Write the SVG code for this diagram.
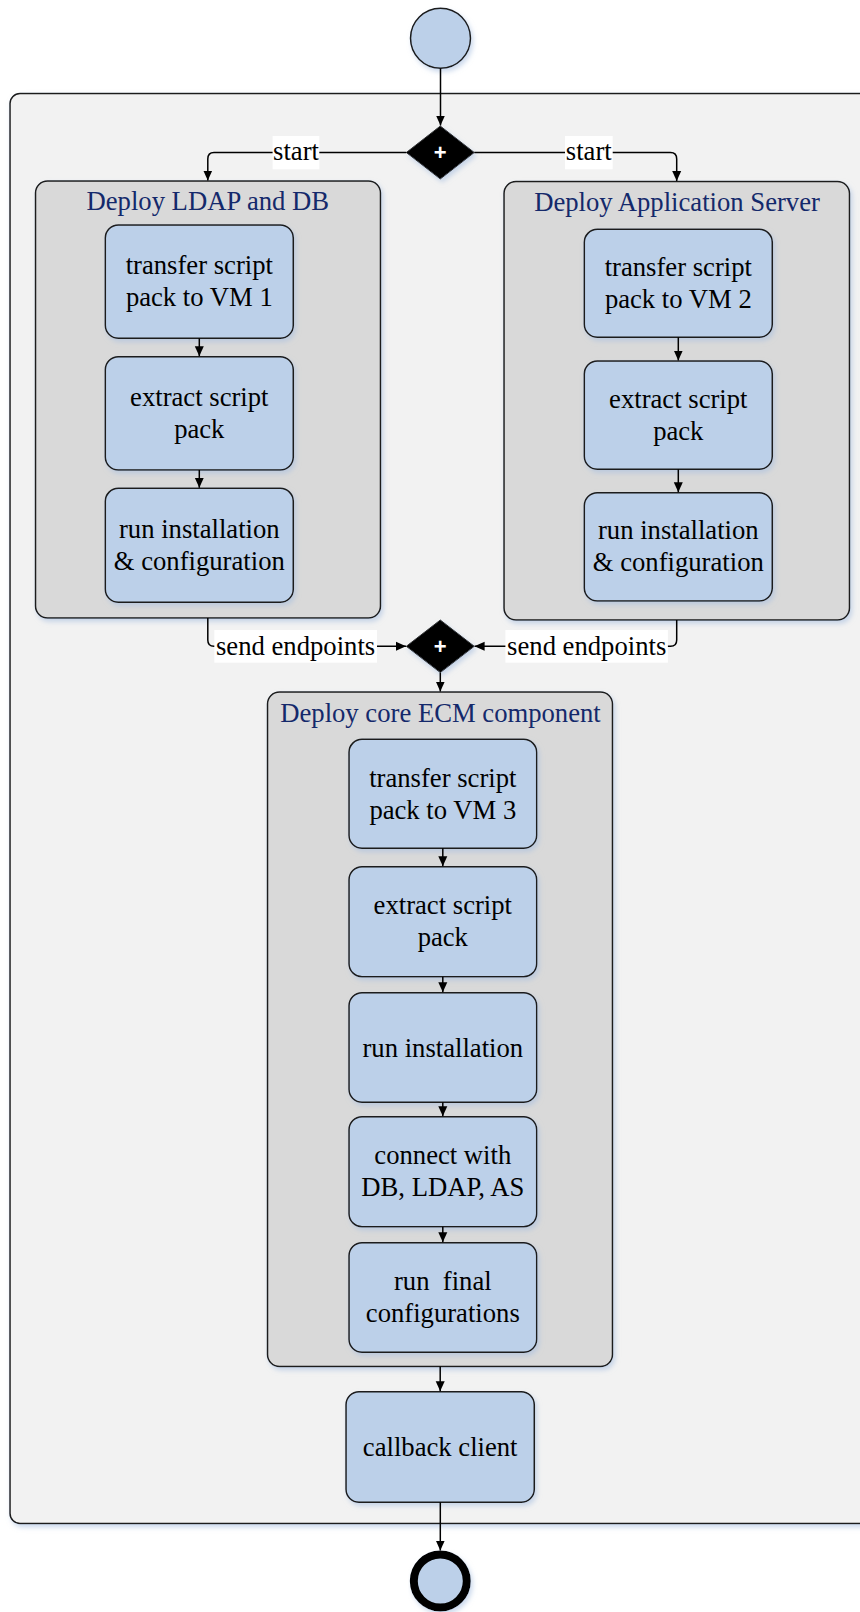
<svg xmlns="http://www.w3.org/2000/svg" width="860" height="1612" viewBox="0 0 860 1612" font-family="'Liberation Serif', 'Times New Roman', serif">
<defs>
<filter id="sh" x="-10%" y="-10%" width="130%" height="130%">
<feDropShadow dx="2" dy="3" stdDeviation="2.5" flood-color="#a8c0e0" flood-opacity="0.6"/>
</filter>
<marker id="ah" markerUnits="userSpaceOnUse" markerWidth="10" markerHeight="10" refX="10" refY="5" orient="auto">
<path d="M0,0.5 L10,5 L0,9.5 z" fill="#000"/>
</marker>
<style>
.outer{fill:#f2f2f2;stroke:#1a1a1a;stroke-width:1.5}
.grp{fill:#d9d9d9;stroke:#1a1a1a;stroke-width:1.5}
.box{fill:#bcd0e9;stroke:#1a1a1a;stroke-width:1.5}
.ttl{font-family:'Liberation Serif','Times New Roman',serif;font-size:26.67px;fill:#14296b;text-anchor:middle}
.txt{font-family:'Liberation Serif','Times New Roman',serif;font-size:26.67px;fill:#000;text-anchor:middle}
.c{fill:none;stroke:#000;stroke-width:1.5;marker-end:url(#ah)}
.lbg{fill:#fff}
.dia{fill:#000;stroke:#333;stroke-width:1}
.plus{font-family:'Liberation Sans',Arial,sans-serif;font-size:22px;font-weight:bold;fill:#fff;text-anchor:middle}
</style>
</defs>

<g id="container">
<rect class="outer" x="10" y="93.5" width="880" height="1430" rx="10" filter="url(#sh)"/>
</g>

<g id="start">
<circle cx="440.5" cy="38.3" r="30" fill="#bcd0e9" stroke="#1a1a1a" stroke-width="1.5" filter="url(#sh)"/>
</g>

<g id="fork">
<polygon class="dia" points="440.3,126 474.3,152.5 440.3,179 406.3,152.5" filter="url(#sh)"/>
<text class="plus" x="440.3" y="160">+</text>
</g>

<g id="group-ldap">
<rect class="grp" x="35.5" y="181" width="345" height="437" rx="12" filter="url(#sh)"/>
<text class="ttl" x="207.8" y="210">Deploy LDAP and DB</text>
</g>
<g id="ldap-transfer">
<rect class="box" x="105.3" y="225" width="188" height="113.3" rx="13" filter="url(#sh)"/>
<text class="txt" x="199.3" y="274">transfer script</text>
<text class="txt" x="199.3" y="306">pack to VM 1</text>
</g>
<g id="ldap-extract">
<rect class="box" x="105.3" y="356.7" width="188" height="113.3" rx="13" filter="url(#sh)"/>
<text class="txt" x="199.3" y="406">extract script</text>
<text class="txt" x="199.3" y="438">pack</text>
</g>
<g id="ldap-run">
<rect class="box" x="105.3" y="488.3" width="188" height="114" rx="13" filter="url(#sh)"/>
<text class="txt" x="199.3" y="538">run installation</text>
<text class="txt" x="199.3" y="570">&amp; configuration</text>
</g>

<g id="group-as">
<rect class="grp" x="504" y="181.5" width="345.5" height="438.5" rx="12" filter="url(#sh)"/>
<text class="ttl" x="677" y="210.7">Deploy Application Server</text>
</g>
<g id="as-transfer">
<rect class="box" x="584.3" y="229.3" width="188" height="108" rx="13" filter="url(#sh)"/>
<text class="txt" x="678.3" y="276">transfer script</text>
<text class="txt" x="678.3" y="308">pack to VM 2</text>
</g>
<g id="as-extract">
<rect class="box" x="584.3" y="361" width="188" height="108.3" rx="13" filter="url(#sh)"/>
<text class="txt" x="678.3" y="407.5">extract script</text>
<text class="txt" x="678.3" y="439.5">pack</text>
</g>
<g id="as-run">
<rect class="box" x="584.3" y="492.7" width="188" height="108.3" rx="13" filter="url(#sh)"/>
<text class="txt" x="678.3" y="539">run installation</text>
<text class="txt" x="678.3" y="571">&amp; configuration</text>
</g>

<g id="join">
<polygon class="dia" points="440.3,620 474.3,646.3 440.3,672.6 406.3,646.3" filter="url(#sh)"/>
<text class="plus" x="440.3" y="654">+</text>
</g>

<g id="group-ecm">
<rect class="grp" x="267.5" y="692" width="345" height="674.5" rx="12" filter="url(#sh)"/>
<text class="ttl" x="440.5" y="721.7">Deploy core ECM component</text>
</g>
<g id="ecm-transfer">
<rect class="box" x="349" y="739.3" width="187.7" height="109" rx="13" filter="url(#sh)"/>
<text class="txt" x="442.8" y="786.5">transfer script</text>
<text class="txt" x="442.8" y="818.5">pack to VM 3</text>
</g>
<g id="ecm-extract">
<rect class="box" x="349" y="866.7" width="187.7" height="110" rx="13" filter="url(#sh)"/>
<text class="txt" x="442.8" y="914">extract script</text>
<text class="txt" x="442.8" y="946">pack</text>
</g>
<g id="ecm-run">
<rect class="box" x="349" y="992.7" width="187.7" height="109.6" rx="13" filter="url(#sh)"/>
<text class="txt" x="442.8" y="1056.5">run installation</text>
</g>
<g id="ecm-connect">
<rect class="box" x="349" y="1116.7" width="187.7" height="110" rx="13" filter="url(#sh)"/>
<text class="txt" x="442.8" y="1164">connect with</text>
<text class="txt" x="442.8" y="1196">DB, LDAP, AS</text>
</g>
<g id="ecm-final">
<rect class="box" x="349" y="1242.7" width="187.7" height="109.6" rx="13" filter="url(#sh)"/>
<text class="txt" x="442.8" y="1290" xml:space="preserve">run  final</text>
<text class="txt" x="442.8" y="1322">configurations</text>
</g>

<g id="callback">
<rect class="box" x="346" y="1391.7" width="188.3" height="110.6" rx="13" filter="url(#sh)"/>
<text class="txt" x="440.2" y="1456">callback client</text>
</g>

<g id="end">
<circle cx="440.3" cy="1581" r="26.5" fill="#bcd0e9" stroke="#000" stroke-width="8" filter="url(#sh)"/>
</g>

<g id="connectors">
<path class="c" d="M440.5,68.5 V125.5"/>
<path class="c" d="M406.3,152.5 H214 Q207.8,152.5 207.8,159 V180.5"/>
<path class="c" d="M474.3,152.5 H670.5 Q676.7,152.5 676.7,159 V181"/>
<rect class="lbg" x="272.6" y="136" width="46.7" height="33.3"/>
<text class="txt" x="296" y="160">start</text>
<rect class="lbg" x="565" y="136" width="47.7" height="33.3"/>
<text class="txt" x="588.8" y="160">start</text>

<path class="c" d="M199.3,338.3 V356.2"/>
<path class="c" d="M199.3,470 V487.8"/>
<path class="c" d="M678.3,337.3 V360.5"/>
<path class="c" d="M678.3,469.3 V492.2"/>

<path class="c" d="M207.8,618 V640 Q207.8,646.3 214,646.3 H406"/>
<path class="c" d="M676.7,620 V640 Q676.7,646.3 670.5,646.3 H474.6"/>
<rect class="lbg" x="214.3" y="630" width="162.7" height="32.7"/>
<text class="txt" x="295.6" y="655">send endpoints</text>
<rect class="lbg" x="505.4" y="630" width="162.5" height="32.7"/>
<text class="txt" x="586.7" y="655">send endpoints</text>

<path class="c" d="M440.3,672.6 V691.5"/>
<path class="c" d="M442.8,848.3 V866.2"/>
<path class="c" d="M442.8,976.7 V992.2"/>
<path class="c" d="M442.8,1102.3 V1116.2"/>
<path class="c" d="M442.8,1226.7 V1242.2"/>
<path class="c" d="M440.2,1366.5 V1391.2"/>
<path class="c" d="M440.3,1502.3 V1550.5"/>
</g>
</svg>
